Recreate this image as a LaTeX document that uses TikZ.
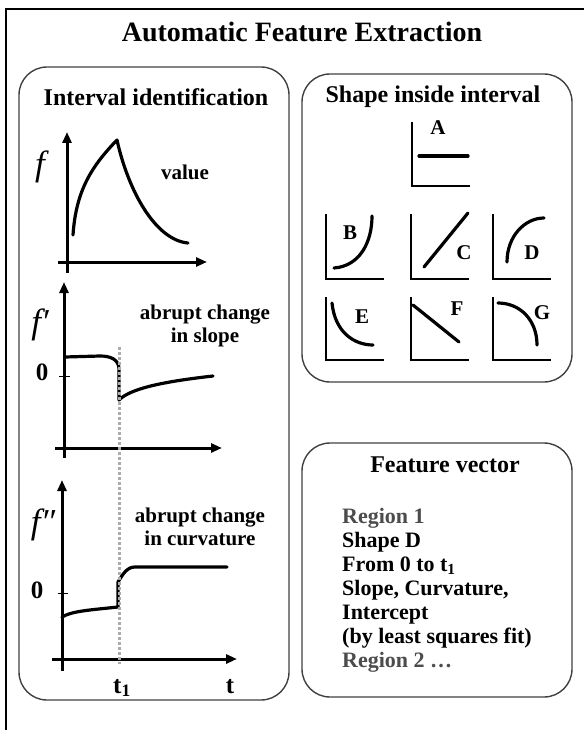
\documentclass[tikz,border=0pt]{standalone}
\usepackage{fontspec}
\setmainfont{Liberation Serif}
\usetikzlibrary{arrows.meta}
\begin{document}
\begin{tikzpicture}[x=1pt,y=-1pt,
  box/.style={draw=black!75,line width=1.4pt,rounded corners=28pt},
  ax/.style={line width=3pt,-{Triangle[length=11pt,width=9pt]}},
  crv/.style={line width=3.2pt,line cap=round,line join=round},
  mini/.style={line width=2.8pt},
  vl/.style={draw=gray!65,line width=3pt,dash pattern=on 3pt off 2pt},
  tick/.style={line width=0.9pt},
  hd/.style={font=\fontsize{24}{28}\selectfont\bfseries},
  ann/.style={font=\fontsize{21}{25}\selectfont\bfseries,align=center},
  flab/.style={font=\fontsize{35}{35}\selectfont\itshape},
  num/.style={font=\fontsize{25}{28}\selectfont\bfseries},
  let/.style={font=\fontsize{21}{24}\selectfont\bfseries},
  lst/.style={font=\fontsize{22}{24}\selectfont\bfseries,anchor=base west,inner sep=0pt},
]
\useasboundingbox (0,0) rectangle (584,730);
% outer frame
\draw[line width=1.6pt] (6,730) -- (6,9) -- (584,9);
% title
\node[font=\fontsize{28}{32}\selectfont\bfseries] (title) at (302,32) {Automatic Feature Extraction};

% boxes
\draw[box] (19,67) rectangle (289,700);
\draw[box] (302,74) rectangle (572,382);
\draw[box] (302,443) rectangle (572,697);

\node[hd] (h1) at (156,97) {Interval identification};
\node[hd] (h2) at (433,97) {Shape inside interval};
\node[hd] (h3) at (445,465) {Feature vector};

% ---- graph 1
\draw[ax] (67,273) -- (67,132);
\draw[ax] (58,262) -- (207,262);
\draw[crv] (73,235) .. controls (76,190) and (92,166) .. (117,140)
           .. controls (128,190) and (155,240) .. (188,243);
\node[flab] (f1) at (40,167) {f};
\node[ann] (val) at (185,172) {value};

% ---- graph 2
\draw[ax] (64,458) -- (64,282);
\draw[ax] (55,448) -- (222,448);
\draw[tick] (59,376) -- (70,376);
\node[num] (z2) at (42,372) {0};
\draw[crv] (65,357) -- (100,356) .. controls (110,356) and (118,359) .. (119,368)
           -- (119,400) .. controls (130,389) and (160,382) .. (213,376);
\node[flab] (f2) at (40,325) {f′};
\node[ann] (a2) at (205,326) {abrupt change\\[-2pt]in slope};

% ---- graph 3
\draw[ax] (62,671) -- (62,480);
\draw[ax] (52,659) -- (237,659);
\draw[tick] (58,593) -- (68,593);
\node[num] (z3) at (37,590) {0};
\draw[crv] (62,617) .. controls (72,611) and (90,610) .. (118,607)
           -- (118,582) .. controls (123,574) and (127,567) .. (135,567) -- (227,567);
\node[flab] (f3) at (43,525) {f″};
\node[ann] (a3) at (200,527) {abrupt change\\[-2pt]in curvature};
\node[num] (t1) at (122,688) {t\textsubscript{1}};
\node[num] (t) at (230,687) {t};

% dotted marker line
\draw[vl] (119,347) -- (119,664);

% ---- shapes
% A
\draw[mini] (412,122) -- (412,186) -- (470,186);
\draw[crv] (419,156) -- (468,156);
\node[let] (lA) at (438,128) {A};
% row 2 axes
\foreach \x in {326,411,493} \draw[mini] (\x,214) -- (\x,279) -- (\x+58,279);
\draw[crv] (334,268) .. controls (360,266) and (372,242) .. (372,216);
\node[let] (lB) at (350,233) {B};
\draw[crv] (424,267) -- (468,213);
\node[let] (lC) at (464,253) {C};
\draw[crv] (507,262) .. controls (507,236) and (525,218) .. (544,218);
\node[let] (lD) at (532,253) {D};
% row 3 axes
\foreach \x in {326,411,493} \draw[mini] (\x,297) -- (\x,360) -- (\x+58,360);
\draw[crv] (332,303) .. controls (335,333) and (355,345) .. (373,345);
\node[let] (lE) at (362,317) {E};
\draw[crv] (413,305) -- (459,342);
\node[let] (lF) at (457,309) {F};
\draw[crv] (498,303) .. controls (520,303) and (537,320) .. (537,345);
\node[let] (lG) at (542,313) {G};

% ---- feature list
\node[lst,text=black!70] (r1) at (342,523) {Region 1};
\node[lst] (sd) at (342,547) {Shape D};
\node[lst] (ft) at (342,571) {From 0 to t\textsubscript{1}};
\node[lst] (sc) at (342,595) {Slope, Curvature,};
\node[lst] (ic) at (342,619) {Intercept};
\node[lst] (ls) at (342,643) {(by least squares fit)};
\node[lst,text=black!70] (r2) at (342,667) {Region 2 …};
\end{tikzpicture}
\end{document}
